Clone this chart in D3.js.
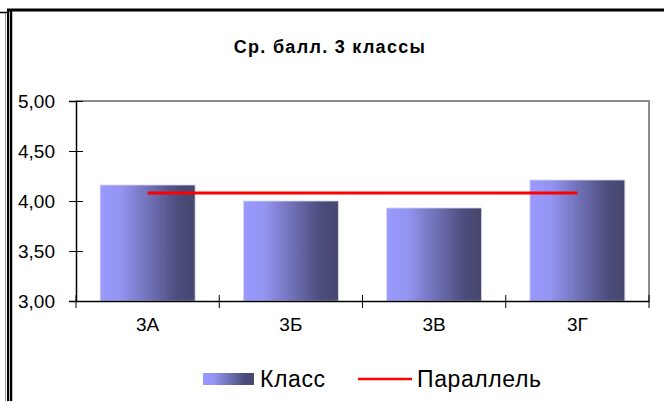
<!DOCTYPE html>
<html>
<head>
<meta charset="utf-8">
<script src="https://cdn.jsdelivr.net/npm/d3@7"></script>
<style>
  body { margin: 0; background: #fff; }
  text { font-family: "Liberation Sans", Arial, sans-serif; fill: #000; }
</style>
</head>
<body>
<div id="chartContainer"></div>
<script>
// chart data
var categories = ["3А", "3Б", "3В", "3Г"];
var classValues = [4.16, 4.00, 3.93, 4.21];
var parallelValues = [4.08, 4.08, 4.08, 4.08];
var yTicks = [3.0, 3.5, 4.0, 4.5, 5.0];
var titleText = "Ср. балл. 3 классы";
var legendNames = ["Класс", "Параллель"];

var width = 664, height = 401;
var plot = { left: 76, right: 649, top: 101, bottom: 301 };

const svg = d3.select("#chartContainer")
    .append("svg")
    .attr("width", width)
    .attr("height", height);

// gradient used by the bars
let defs = svg.append("defs");
let grad = defs.append("linearGradient")
    .attr("id", "barGrad")
    .attr("x1", "0%").attr("x2", "100%")
    .attr("y1", "0%").attr("y2", "0%");
grad.append("stop").attr("offset", "0%").attr("stop-color", "#9a9aff");
grad.append("stop").attr("offset", "22%").attr("stop-color", "#9494f2");
grad.append("stop").attr("offset", "55%").attr("stop-color", "#6c6cb0");
grad.append("stop").attr("offset", "82%").attr("stop-color", "#4c4c7c");
grad.append("stop").attr("offset", "100%").attr("stop-color", "#46466e");

// outer frame (left double line + top line)
svg.append("line").attr("x1", 5.5).attr("x2", 5.5).attr("y1", 12).attr("y2", height)
    .attr("stroke", "#999").attr("stroke-width", 1);
svg.append("line").attr("x1", 0).attr("x2", 7).attr("y1", 12.5).attr("y2", 12.5)
    .attr("stroke", "#000").attr("stroke-width", 1.5);
svg.append("line").attr("x1", 8).attr("x2", 8).attr("y1", 9).attr("y2", height)
    .attr("stroke", "#000").attr("stroke-width", 2);
svg.append("line").attr("x1", 11).attr("x2", 11).attr("y1", 11).attr("y2", height)
    .attr("stroke", "#000").attr("stroke-width", 2.5);
svg.append("line").attr("x1", 7).attr("x2", width).attr("y1", 10).attr("y2", 10)
    .attr("stroke", "#000").attr("stroke-width", 3);

// title
svg.append("text")
    .attr("x", 330)
    .attr("y", 53)
    .attr("text-anchor", "middle")
    .style("font-size", "18px")
    .style("font-weight", "bold")
    .style("letter-spacing", "1.3px")
    .text(titleText);

// scales
const x = d3.scaleBand()
    .domain(categories)
    .range([plot.left, plot.right])
    .paddingInner(0.337)
    .paddingOuter(0.1685);

const y = d3.scaleLinear()
    .domain([3, 5])
    .range([plot.bottom, plot.top]);

// plot border (top and right in grey)
svg.append("path")
    .attr("d", `M${plot.left},${plot.top}H${plot.right}V${plot.bottom}`)
    .attr("fill", "none")
    .attr("stroke", "#8c8c8c")
    .attr("stroke-width", 2);

// bars
svg.append("g")
    .selectAll("rect")
    .data(categories)
    .join("rect")
    .attr("x", d => x(d))
    .attr("width", x.bandwidth())
    .attr("y", (d, i) => y(classValues[i]))
    .attr("height", (d, i) => y(3) - y(classValues[i]))
    .attr("fill", "url(#barGrad)")
    .attr("stroke", "#d6d6ee")
    .attr("stroke-width", 0.8);

// parallel line
let parallel = d3.line()
    .x((d, i) => x(categories[i]) + x.bandwidth() / 2)
    .y(d => y(d));
svg.append("path")
    .datum(parallelValues)
    .attr("fill", "none")
    .attr("stroke", "#ff0000")
    .attr("stroke-width", 3)
    .attr("d", parallel);

// Y axis
let yAxis = svg.append("g")
    .attr("transform", `translate(${plot.left},0)`)
    .call(d3.axisLeft(y)
        .tickValues(yTicks)
        .tickSize(7)
        .tickPadding(14)
        .tickFormat(d => d.toFixed(2).replace(".", ",")));
yAxis.select(".domain").attr("stroke", "#000").attr("stroke-width", 1.5);
yAxis.selectAll(".tick line").attr("x1", 7).attr("x2", -7).attr("stroke", "#000");
yAxis.selectAll(".tick text")
    .style("font-size", "19px")
    .style("font-family", "'Liberation Sans', Arial, sans-serif");

// X axis
let xAxis = svg.append("g")
    .attr("transform", `translate(0,${plot.bottom})`)
    .call(d3.axisBottom(x).tickSize(0).tickPadding(17));
xAxis.select(".domain").attr("stroke", "#000").attr("stroke-width", 1.5);
xAxis.selectAll(".tick text")
    .style("font-size", "19px")
    .style("font-family", "'Liberation Sans', Arial, sans-serif");

// category boundary ticks
let step = x.step();
let bounds = categories.map(c => x(c) - step * x.paddingInner() / 2);
bounds.push(x(categories[categories.length - 1]) + x.bandwidth() + step * x.paddingInner() / 2);
svg.append("g")
    .selectAll("line")
    .data(bounds)
    .join("line")
    .attr("x1", d => d).attr("x2", d => d)
    .attr("y1", plot.bottom - 6).attr("y2", plot.bottom + 7)
    .attr("stroke", "#000")
    .attr("stroke-width", 1);

// legend
let legend = svg.append("g");
legend.append("rect")
    .attr("x", 203).attr("y", 373)
    .attr("width", 51).attr("height", 12)
    .attr("fill", "url(#barGrad)");
legend.append("text")
    .attr("x", 260).attr("y", 387)
    .style("font-size", "23px")
    .style("letter-spacing", "0.6px")
    .text(legendNames[0]);
legend.append("line")
    .attr("x1", 358).attr("x2", 412)
    .attr("y1", 379).attr("y2", 379)
    .attr("stroke", "#ff0000").attr("stroke-width", 2.5);
legend.append("text")
    .attr("x", 417).attr("y", 387)
    .style("font-size", "23px")
    .style("letter-spacing", "0.6px")
    .text(legendNames[1]);
</script>
</body>
</html>
